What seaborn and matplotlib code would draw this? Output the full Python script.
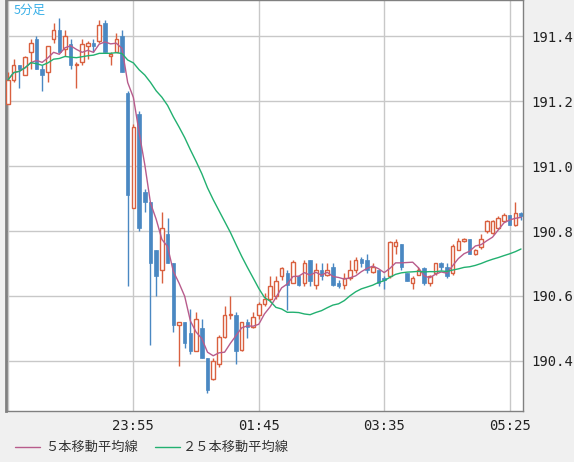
import numpy as np
import pandas as pd
import matplotlib
matplotlib.use("Agg")
import matplotlib.pyplot as plt
import seaborn as sns
from matplotlib.lines import Line2D

sns.set_style("white")
plt.rcParams['font.family'] = ['Noto Sans CJK JP', 'DejaVu Sans']

opens = [191.19,191.265,191.31,191.28,191.35,191.39,191.30,191.29,191.39,191.42,
 191.36,191.375,191.31,191.32,191.37,191.38,191.385,191.44,191.34,191.35,
 191.40,191.225,190.87,191.16,190.92,190.89,190.74,190.68,190.79,190.70,
 190.51,190.52,190.485,190.43,190.50,190.41,190.345,190.39,190.475,190.54,
 190.54,190.435,190.52,190.505,190.54,190.575,190.59,190.60,190.66,190.67,
 190.64,190.66,190.64,190.71,190.635,190.68,190.665,190.69,190.64,190.635,
 190.655,190.68,190.715,190.71,190.675,190.68,190.655,190.66,190.755,190.76,
 190.67,190.64,190.665,190.685,190.64,190.67,190.70,190.69,190.67,190.74,
 190.77,190.775,190.73,190.75,190.80,190.795,190.81,190.83,190.85,190.82,190.855]
closes = [191.265,191.31,191.30,191.335,191.38,191.30,191.28,191.37,191.42,191.35,
 191.40,191.31,191.315,191.375,191.38,191.37,191.435,191.35,191.345,191.39,
 191.29,190.91,191.12,190.81,190.89,190.70,190.66,190.81,190.70,190.51,
 190.52,190.455,190.43,190.53,190.41,190.31,190.40,190.475,190.54,190.545,
 190.43,190.52,190.505,190.535,190.575,190.59,190.63,190.645,190.685,190.635,
 190.705,190.635,190.70,190.645,190.68,190.66,190.68,190.635,190.63,190.655,
 190.68,190.71,190.70,190.68,190.69,190.64,190.65,190.765,190.765,190.69,
 190.645,190.655,190.68,190.64,190.66,190.70,190.69,190.66,190.755,190.77,
 190.775,190.73,190.74,190.775,190.83,190.83,190.84,190.85,190.82,190.855,190.845]
highs = [191.29,191.33,191.31,191.34,191.39,191.40,191.31,191.37,191.44,191.455,
 191.42,191.39,191.32,191.39,191.385,191.39,191.45,191.45,191.35,191.41,
 191.42,191.23,191.13,191.17,190.93,190.89,190.74,190.86,190.84,190.70,
 190.52,190.52,190.56,190.55,190.53,190.41,190.41,190.48,190.57,190.60,
 190.55,190.52,190.53,190.55,190.58,190.61,190.66,190.66,190.69,190.68,
 190.71,190.665,190.71,190.71,190.70,190.70,190.70,190.70,190.65,190.67,
 190.71,190.72,190.72,190.73,190.70,190.68,190.66,190.77,190.775,190.76,
 190.67,190.66,190.69,190.69,190.665,190.70,190.705,190.70,190.76,190.78,
 190.78,190.775,190.745,190.79,190.835,190.835,190.845,190.855,190.85,190.89,190.86]
lows = [191.19,191.26,191.24,191.28,191.30,191.30,191.23,191.26,191.38,191.35,
 191.34,191.30,191.24,191.31,191.33,191.35,191.38,191.35,191.31,191.35,
 191.29,190.63,190.87,190.80,190.86,190.45,190.60,190.64,190.70,190.49,
 190.385,190.44,190.42,190.43,190.41,190.30,190.34,190.38,190.47,190.53,
 190.39,190.43,190.47,190.50,190.53,190.57,190.58,190.59,190.65,190.557,
 190.64,190.63,190.63,190.63,190.62,190.65,190.66,190.63,190.625,190.62,
 190.65,190.67,190.69,190.67,190.67,190.63,190.62,190.655,190.73,190.68,
 190.645,190.62,190.665,190.635,190.63,190.665,190.68,190.655,190.665,190.74,
 190.765,190.73,190.725,190.745,190.795,190.79,190.805,190.83,190.82,190.815,190.835]
tick_idx = [22, 44, 66, 88]
tick_labels = ["23:55", "01:45", "03:35", "05:25"]
yticks = [190.4, 190.6, 190.8, 191.0, 191.2, 191.4]

df = pd.DataFrame({"o": opens, "h": highs, "l": lows, "c": closes})
df["i"] = np.arange(len(df))
df["ma5"] = df["c"].rolling(5, min_periods=1).mean()
df["ma25"] = df["c"].rolling(25, min_periods=1).mean()

BLUE = "#4a88c2"; RED = "#d9603f"; MA5C = "#b85c8c"; MA25C = "#22b070"
fig = plt.figure(figsize=(5.74, 4.62), dpi=100, facecolor="#f0f0f0")
ax = fig.add_axes([6/574, 51/462, 517/574, 411/462])
ax.set_facecolor("white")

for x in [0] + tick_idx:
    ax.axvline(x, color="#c8c8c8", lw=1, zorder=0)
for y in yticks:
    ax.axhline(y, color="#c8c8c8", lw=1, zorder=0)

w = 0.62
for r in df.itertuples():
    up = r.c >= r.o
    col = RED if up else BLUE
    ax.vlines(r.i, r.l, r.h, color=col, lw=1, zorder=2)
    bot = min(r.o, r.c); hgt = max(abs(r.c - r.o), 0.003)
    if up:
        ax.bar(r.i, hgt, bottom=bot, width=w, facecolor="white", edgecolor=col, lw=1, zorder=3)
    else:
        ax.bar(r.i, hgt, bottom=bot, width=w, facecolor=col, edgecolor=col, lw=0.5, zorder=3)

sns.lineplot(data=df, x="i", y="ma5", ax=ax, color=MA5C, lw=1, zorder=4)
sns.lineplot(data=df, x="i", y="ma25", ax=ax, color=MA25C, lw=1, zorder=4)

ax.set_xlim(-0.35, 90.35)
ax.set_ylim(190.246, 191.511)
ax.set_xticks(tick_idx)
ax.set_xticklabels(tick_labels, family="DejaVu Sans Mono")
ax.set_yticks(yticks)
ax.set_yticklabels([f"{v:.1f}" for v in yticks], family="DejaVu Sans Mono")
ax.yaxis.tick_right()
ax.tick_params(axis="both", labelsize=10, colors="#222222", length=0, pad=6)
ax.set_xlabel(""); ax.set_ylabel("")
for s in ax.spines.values():
    s.set_color("#808080"); s.set_linewidth(1)
ax.spines["left"].set_linewidth(2)

ax.text(0.015, 0.99, "5分足", transform=ax.transAxes, color="#3ab0e8", fontsize=9, va="top", ha="left")

fig.lines.append(Line2D([15/574, 40/574], [15/462, 15/462], color=MA5C, lw=1, transform=fig.transFigure))
fig.text(45/574, 15/462, "５本移動平均線", fontsize=9.5, va="center", color="#333333")
fig.lines.append(Line2D([155/574, 180/574], [15/462, 15/462], color=MA25C, lw=1, transform=fig.transFigure))
fig.text(183/574, 15/462, "２５本移動平均線", fontsize=9.5, va="center", color="#333333")

fig.savefig("out.png", dpi=100, facecolor=fig.get_facecolor())
